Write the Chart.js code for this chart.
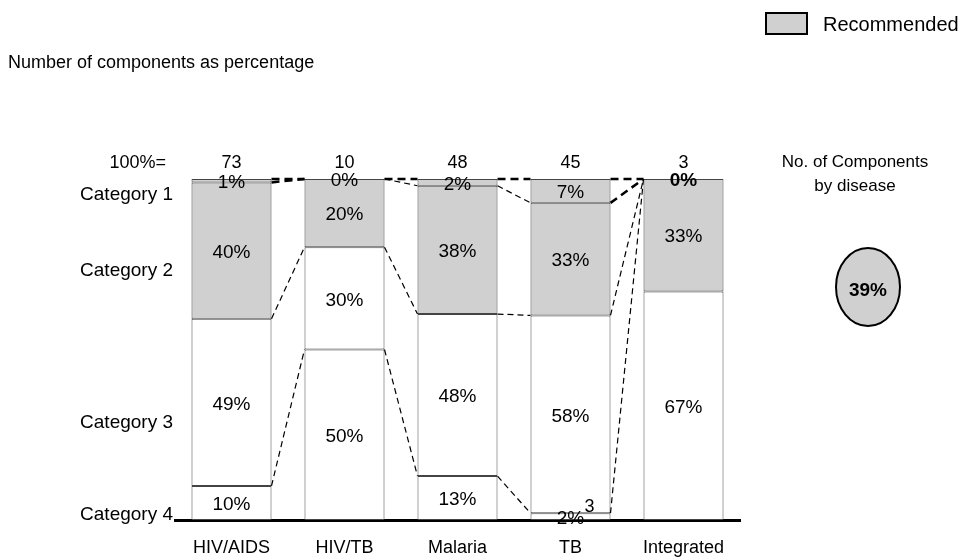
<!DOCTYPE html>
<html>
<head>
<meta charset="utf-8">
<title>Components by disease</title>
<script src="https://cdn.jsdelivr.net/npm/chart.js@4.4.1/dist/chart.umd.min.js"></script>
<style>
  html, body { margin: 0; padding: 0; background: #fff; }
  #wrap { width: 978px; height: 558px; position: relative; }
</style>
</head>
<body>
<div id="wrap"><canvas id="componentChart"></canvas></div>
<script>
// share of components per category (percent, top to bottom)
const diseases = ["HIV/AIDS", "HIV/TB", "Malaria", "TB", "Integrated"];
const componentCounts = [73, 10, 48, 45, 3];
const category1 = [1, 0, 2, 7, 0];
const category2 = [40, 20, 38, 33, 33];
const category3 = [49, 30, 48, 58, 67];
const category4 = [10, 50, 13, 2, 0];
const categoryNames = ["Category 1", "Category 2", "Category 3", "Category 4"];
const category4Counts = [null, null, null, 3, null];
const recommendedShare = 39;

const FONT = '"Liberation Sans", Arial, sans-serif';
const GREY = "#d0d0d0";

const series = [category1, category2, category3, category4];
const columnSums = diseases.map((d, i) => series.reduce((s, arr) => s + arr[i], 0));

// each column is scaled to 100% so every bar has the same height
const datasets = series.map((arr, k) => ({
    label: categoryNames[k],
    data: arr.map((v, i) => v / columnSums[i] * 100),
    rawValues: arr,
    backgroundColor: k < 2 ? GREY : "#ffffff",
    borderColor: "#444444",
    borderWidth: 1,
    borderSkipped: false,
    barPercentage: 1,
    categoryPercentage: 80 / 113
}));

function text(ctx, str, x, y, size, align, weight) {
    ctx.font = (weight || "normal") + " " + size + "px " + FONT;
    ctx.textAlign = align || "center";
    ctx.textBaseline = "middle";
    ctx.fillStyle = "#000";
    ctx.fillText(str, x, y);
}

// y pixel of the k-th boundary of column i (0 = top of bar)
function boundaryY(metas, i, k) {
    return k === 0 ? metas[0].data[i].base : metas[k - 1].data[i].y;
}

const gapLinks = [
    [[0, 0, true], [1, 1, true], [2, 2, false], [3, 3, false]],
    [[0, 0, true], [1, 1, false], [2, 2, false], [3, 3, false]],
    [[0, 0, true], [1, 1, false], [2, 2, false], [3, 3, false]],
    [[0, 0, true], [1, 0, true], [2, 0, false], [3, 0, false]]
];

const decorations = {
    id: "decorations",
    afterDatasetsDraw(chart) {
        const ctx = chart.ctx;
        const metas = chart.data.datasets.map((d, k) => chart.getDatasetMeta(k));

        // dashed connectors between neighbouring bars
        ctx.save();
        gapLinks.forEach((links, i) => {
            const left = metas[0].data[i];
            const right = metas[0].data[i + 1];
            const x1 = left.x + left.width / 2;
            const x2 = right.x - right.width / 2;
            links.forEach(([from, to, heavy]) => {
                ctx.beginPath();
                ctx.lineWidth = heavy ? 2.5 : 1.2;
                ctx.setLineDash(heavy ? [8, 5] : [6, 4]);
                ctx.strokeStyle = "#000";
                ctx.moveTo(x1, boundaryY(metas, i, from));
                ctx.lineTo(x2, boundaryY(metas, i + 1, to));
                ctx.stroke();
            });
        });
        ctx.restore();

        // percentage labels inside the segments
        chart.data.datasets.forEach((ds, k) => {
            metas[k].data.forEach((bar, i) => {
                const v = ds.rawValues[i];
                if (v === 0 && k > 0) return;
                const bold = v === 0 && i === diseases.length - 1 ? "bold" : "normal";
                text(ctx, v + "%", bar.x, (bar.y + bar.base) / 2 + 2, 19, "center", bold);
            });
        });

        // counts row above the bars
        const yTop = metas[0].data[0].base;
        text(ctx, "100%=", 166, yTop - 16, 18, "right");
        metas[0].data.forEach((bar, i) => {
            text(ctx, String(componentCounts[i]), bar.x, yTop - 16, 18, "center");
            if (category4Counts[i] !== null) {
                text(ctx, String(category4Counts[i]), bar.x + 19, 507, 18, "center");
            }
        });

        // disease names under the axis
        const x = chart.scales.x;
        diseases.forEach((d, i) => text(ctx, d, x.getPixelForValue(i), 548, 18, "center"));

        // category names on the left
        const y = chart.scales.y;
        [95.3, 73, 28.4, 1.5].forEach((v, k) => {
            text(ctx, categoryNames[k], 173, y.getPixelForValue(100 - v), 19, "right");
        });

        // title
        text(ctx, "Number of components as percentage", 8, 63, 18, "left");

        // legend
        ctx.save();
        ctx.fillStyle = GREY;
        ctx.strokeStyle = "#000";
        ctx.lineWidth = 2;
        ctx.fillRect(766, 13, 41, 21);
        ctx.strokeRect(766, 13, 41, 21);
        ctx.restore();
        text(ctx, "Recommended", 823, 25, 20, "left");

        // share recommended, overall
        text(ctx, "No. of Components", 855, 162, 17, "center");
        text(ctx, "by disease", 855, 186, 17, "center");
        ctx.save();
        ctx.beginPath();
        ctx.ellipse(868, 287, 32, 39, 0, 0, Math.PI * 2);
        ctx.fillStyle = GREY;
        ctx.fill();
        ctx.lineWidth = 2;
        ctx.strokeStyle = "#000";
        ctx.stroke();
        ctx.restore();
        text(ctx, recommendedShare + "%", 868, 291, 19, "center", "bold");
    }
};

new Chart(document.getElementById("componentChart"), {
    type: "bar",
    data: { labels: diseases, datasets: datasets },
    options: {
        responsive: true,
        maintainAspectRatio: false,
        animation: false,
        devicePixelRatio: 1,
        layout: { padding: { left: 175, right: 238, top: 179, bottom: 38 } },
        plugins: { legend: { display: false }, tooltip: { enabled: false } },
        scales: {
            x: {
                stacked: true,
                grid: { display: false, drawTicks: false },
                ticks: { display: false },
                border: { display: true, color: "#000", width: 3 }
            },
            y: {
                stacked: true,
                display: false,
                reverse: true,
                min: 0,
                max: 100
            }
        }
    },
    plugins: [decorations]
});
</script>
</body>
</html>
